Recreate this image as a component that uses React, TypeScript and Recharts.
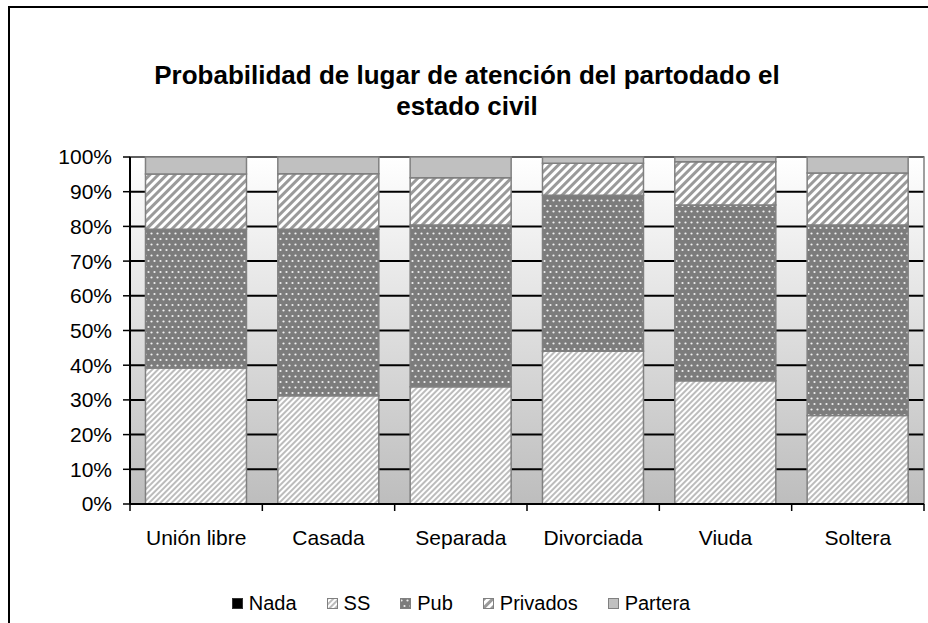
import React from "react";
import {
  BarChart,
  Bar,
  XAxis,
  YAxis,
  CartesianGrid,
  ReferenceArea,
} from "recharts";

const categories = ["Unión libre", "Casada", "Separada", "Divorciada", "Viuda", "Soltera"];
const nada = [0, 0, 0, 0, 0, 0];
const ss = [39.2, 31.2, 33.8, 44.0, 35.5, 25.5];
const pub = [40.0, 48.0, 46.6, 45.0, 50.7, 54.9];
const privados = [15.9, 16.0, 13.6, 9.2, 12.4, 15.0];
const partera = [4.9, 4.8, 6.0, 1.8, 1.4, 4.6];
const yTicks = [0, 10, 20, 30, 40, 50, 60, 70, 80, 90, 100];
const seriesNames = ["Nada", "SS", "Pub", "Privados", "Partera"];

const FONT = "'Liberation Sans', Arial, sans-serif";
const CHART_W = 928;
const CHART_H = 623;
const MARGIN = { top: 157, right: 4, bottom: 79, left: 70 };
const Y_AXIS_W = 60;
const X_AXIS_H = 40;
const BAND = (CHART_W - MARGIN.left - MARGIN.right - Y_AXIS_W) / categories.length;
const X_TICK_MARGIN = 26;

// fills per series, same order as seriesNames
const fills: Record<string, string> = {
  Nada: "#000000",
  SS: "url(#ssPat)",
  Pub: "url(#pubPat)",
  Privados: "url(#privPat)",
  Partera: "#c0c0c0",
};

const data = categories.map((name, i) => ({
  name,
  Nada: nada[i],
  SS: ss[i],
  Pub: pub[i],
  Privados: privados[i],
  Partera: partera[i],
}));

const Patterns = () => (
  <svg width={0} height={0} style={{ position: "absolute" }}>
    <defs>
      <linearGradient id="plotBg" x1="0" y1="0" x2="0" y2="1">
        <stop offset="0%" stopColor="#ffffff" />
        <stop offset="100%" stopColor="#bdbdbd" />
      </linearGradient>
      <pattern id="ssPat" width={4} height={4} patternUnits="userSpaceOnUse" patternTransform="rotate(45)">
        <rect width={4} height={4} fill="#ffffff" />
        <line x1={1} y1={0} x2={1} y2={4} stroke="#a0a0a0" strokeWidth={1.4} />
      </pattern>
      <pattern id="privPat" width={6} height={6} patternUnits="userSpaceOnUse" patternTransform="rotate(45)">
        <rect width={6} height={6} fill="#ffffff" />
        <rect x={0} y={0} width={3} height={6} fill="#9a9a9a" />
      </pattern>
      <pattern id="pubPat" width={6} height={11} patternUnits="userSpaceOnUse">
        <rect width={6} height={11} fill="#7c7c7c" />
        <circle cx={1.5} cy={2.5} r={1.1} fill="#f0f0f0" />
        <circle cx={4.5} cy={8} r={1.1} fill="#f0f0f0" />
      </pattern>
    </defs>
  </svg>
);

const CategoryTick = (props: any) => {
  const { x, y, payload } = props;
  const half = BAND / 2;
  const top = y - X_TICK_MARGIN;
  const isLast = payload.value === categories[categories.length - 1];
  return (
    <g>
      <line x1={x - half} x2={x - half} y1={top} y2={top + 7} stroke="#000" strokeWidth={1.5} />
      {isLast && (
        <line x1={x + half} x2={x + half} y1={top} y2={top + 7} stroke="#000" strokeWidth={1.5} />
      )}
      <text x={x} y={y} dy="0.71em" textAnchor="middle" fontSize={21} fill="#000" fontFamily={FONT}>
        {payload.value}
      </text>
    </g>
  );
};

const LegendIcon = ({ fill }: { fill: string }) => (
  <svg width={11} height={11} style={{ display: "block" }}>
    <rect x={0.5} y={0.5} width={10} height={10} fill={fill} stroke={fill === "#000000" ? "#333" : "#808080"} strokeWidth={1} />
  </svg>
);

export default function App() {
  return (
    <div
      style={{
        position: "fixed",
        left: 0,
        top: 0,
        width: CHART_W,
        height: CHART_H,
        overflow: "hidden",
        background: "#fff",
        fontFamily: FONT,
      }}
    >
      <Patterns />
      <div
        style={{
          position: "absolute",
          left: 8,
          top: 6,
          width: 960,
          height: 660,
          border: "2px solid #000",
          boxSizing: "border-box",
        }}
      />
      <div
        style={{
          position: "absolute",
          left: 0,
          top: 60,
          width: 934,
          textAlign: "center",
          fontWeight: "bold",
          fontSize: 26,
          lineHeight: "31px",
          color: "#000",
        }}
      >
        Probabilidad de lugar de atención del partodado el
        <br />
        estado civil
      </div>
      <div style={{ position: "absolute", left: 0, top: 0 }}>
        <BarChart
          width={CHART_W}
          height={CHART_H}
          data={data}
          margin={MARGIN}
          barCategoryGap="11.7%"
        >
          <CartesianGrid
            vertical={false}
            stroke="#000"
            strokeWidth={2}
            fill="url(#plotBg)"
            fillOpacity={1}
          />
          <ReferenceArea y1={0} y2={100} fill="none" stroke="#808080" strokeWidth={1.5} />
          <XAxis
            dataKey="name"
            height={X_AXIS_H}
            axisLine={{ stroke: "#000", strokeWidth: 2 }}
            tickLine={false}
            tickSize={0}
            tickMargin={X_TICK_MARGIN}
            interval={0}
            tick={<CategoryTick />}
          />
          <YAxis
            width={Y_AXIS_W}
            domain={[0, 100]}
            ticks={yTicks}
            tickFormatter={(v: number) => `${v}%`}
            axisLine={{ stroke: "#000", strokeWidth: 2 }}
            tickLine={{ stroke: "#000", strokeWidth: 1.5 }}
            tickSize={7}
            tickMargin={11}
            tick={{ fill: "#000", fontSize: 21, fontFamily: FONT }}
          />
          {seriesNames.map((s) => (
            <Bar
              key={s}
              dataKey={s}
              stackId="a"
              fill={fills[s]}
              stroke="#808080"
              strokeWidth={1.5}
              isAnimationActive={false}
            />
          ))}
        </BarChart>
      </div>
      <div
        style={{
          position: "absolute",
          left: 0,
          top: 591,
          width: 922,
          display: "flex",
          justifyContent: "center",
          alignItems: "center",
          fontSize: 20,
          color: "#000",
        }}
      >
        {seriesNames.map((s, i) => (
          <div
            key={s}
            style={{
              display: "flex",
              alignItems: "center",
              marginLeft: i === 0 ? 0 : 30,
            }}
          >
            <LegendIcon fill={fills[s]} />
            <span style={{ marginLeft: 6, lineHeight: "24px" }}>{s}</span>
          </div>
        ))}
      </div>
    </div>
  );
}
